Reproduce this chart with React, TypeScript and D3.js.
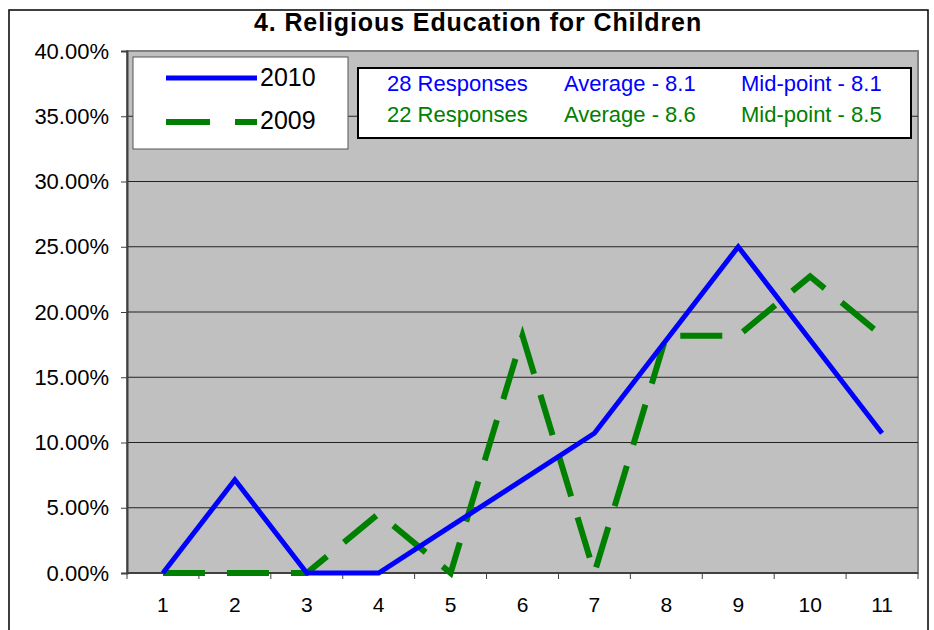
import { useEffect, useRef } from "react";
import * as d3 from "d3";

const categories = ["1", "2", "3", "4", "5", "6", "7", "8", "9", "10", "11"];
const values2010 = [0, 7.14, 0, 0, 3.57, 7.14, 10.71, 17.86, 25.0, 17.86, 10.71];
const values2009 = [0, 0, 0, 4.55, 0, 18.18, 0, 18.18, 18.18, 22.73, 18.18];
const yTicks = [0, 5, 10, 15, 20, 25, 30, 35, 40];
const infoRows = [
  { color: "#0000ff", cols: ["28 Responses", "Average - 8.1", "Mid-point - 8.1"] },
  { color: "#008000", cols: ["22 Responses", "Average - 8.6", "Mid-point - 8.5"] },
];

const App = () => {
  const svgRef = useRef<SVGSVGElement>(null);

  useEffect(() => {
    const w = 934;
    const h = 630;
    const left = 127, right = 918, top = 51, bottom = 573;
    const font = "'Liberation Sans', Arial, sans-serif";

    const svg = d3.select(svgRef.current).attr("width", w).attr("height", h);
    svg.selectAll("*").remove();

    svg.append("rect").attr("width", w).attr("height", h).attr("fill", "#fff");
    // outer chart frame
    svg.append("rect")
      .attr("x", 9).attr("y", 10).attr("width", 919).attr("height", 640)
      .attr("fill", "#fff").attr("stroke", "#000").attr("stroke-width", 1.5);

    // title
    svg.append("text")
      .attr("x", 478).attr("y", 31)
      .attr("text-anchor", "middle")
      .style("font-family", font).style("font-weight", "bold").style("font-size", "25px")
      .style("letter-spacing", "0.9px")
      .text("4. Religious Education for Children");

    const xScale = d3.scaleBand().domain(categories).range([left, right]);
    const yScale = d3.scaleLinear().domain([0, 40]).range([bottom, top]);

    // plot area
    svg.append("rect")
      .attr("x", left).attr("y", top).attr("width", right - left).attr("height", bottom - top)
      .attr("fill", "#c0c0c0").attr("stroke", "#808080").attr("stroke-width", 2);

    // gridlines
    svg.append("g").selectAll("line")
      .data(yTicks.slice(1, -1))
      .join("line")
      .attr("x1", left).attr("x2", right)
      .attr("y1", (d) => yScale(d)).attr("y2", (d) => yScale(d))
      .attr("stroke", "#222").attr("stroke-width", 1);

    // y axis
    const yAxis = d3.axisLeft(yScale).tickValues(yTicks).tickSize(6).tickPadding(12)
      .tickFormat((d) => (+d).toFixed(2) + "%");
    const yg = svg.append("g").attr("transform", `translate(${left},0)`).call(yAxis);
    yg.select(".domain").attr("stroke", "#404040").attr("stroke-width", 2);
    yg.selectAll(".tick line").attr("stroke", "#404040");
    yg.selectAll(".tick text").style("font-family", font).style("font-size", "22px").attr("fill", "#000");

    // x axis (ticks between categories)
    const xg = svg.append("g").attr("transform", `translate(0,${bottom})`);
    xg.append("line").attr("x1", left).attr("x2", right).attr("stroke", "#404040").attr("stroke-width", 2);
    const bounds = categories.map((c) => xScale(c) as number).concat([right]);
    xg.selectAll("line.tk").data(bounds).join("line").attr("class", "tk")
      .attr("x1", (d) => d).attr("x2", (d) => d).attr("y1", 0).attr("y2", 6)
      .attr("stroke", "#404040");
    xg.selectAll("text").data(categories).join("text")
      .attr("x", (d) => (xScale(d) as number) + xScale.bandwidth() / 2)
      .attr("y", 39)
      .attr("text-anchor", "middle")
      .style("font-family", font).style("font-size", "21px")
      .text((d) => d);

    const line = d3.line<number>()
      .x((d, i) => (xScale(categories[i]) as number) + xScale.bandwidth() / 2)
      .y((d) => yScale(d));

    svg.append("path").datum(values2009).attr("d", line)
      .attr("fill", "none").attr("stroke", "#008000").attr("stroke-width", 6)
      .attr("stroke-dasharray", "42 22");
    svg.append("path").datum(values2010).attr("d", line)
      .attr("fill", "none").attr("stroke", "#0000ff").attr("stroke-width", 5);

    // series legend
    const lg = svg.append("g");
    lg.append("rect").attr("x", 133).attr("y", 57).attr("width", 215).attr("height", 92)
      .attr("fill", "#fff").attr("stroke", "#555").attr("stroke-width", 1);
    lg.append("line").attr("x1", 166).attr("x2", 257).attr("y1", 78).attr("y2", 78)
      .attr("stroke", "#0000ff").attr("stroke-width", 5);
    lg.append("line").attr("x1", 166).attr("x2", 257).attr("y1", 122).attr("y2", 122)
      .attr("stroke", "#008000").attr("stroke-width", 6).attr("stroke-dasharray", "44 25");
    lg.append("text").attr("x", 260).attr("y", 86).text("2010")
      .style("font-family", font).style("font-size", "25px");
    lg.append("text").attr("x", 260).attr("y", 129).text("2009")
      .style("font-family", font).style("font-size", "25px");

    // info box
    const ib = svg.append("g");
    ib.append("rect").attr("x", 358).attr("y", 68).attr("width", 553).attr("height", 70)
      .attr("fill", "#fff").attr("stroke", "#000").attr("stroke-width", 2);
    const colX = [387, 564, 741];
    infoRows.forEach((row, r) => {
      row.cols.forEach((t, c) => {
        ib.append("text").attr("x", colX[c]).attr("y", 91 + r * 31)
          .attr("fill", row.color)
          .style("font-family", font).style("font-size", "22px")
          .text(t);
      });
    });
  }, []);

  return (
    <div>
      <svg ref={svgRef} style={{ display: "block", position: "absolute", left: 0, top: 0 }}></svg>
    </div>
  );
};

export default App;
